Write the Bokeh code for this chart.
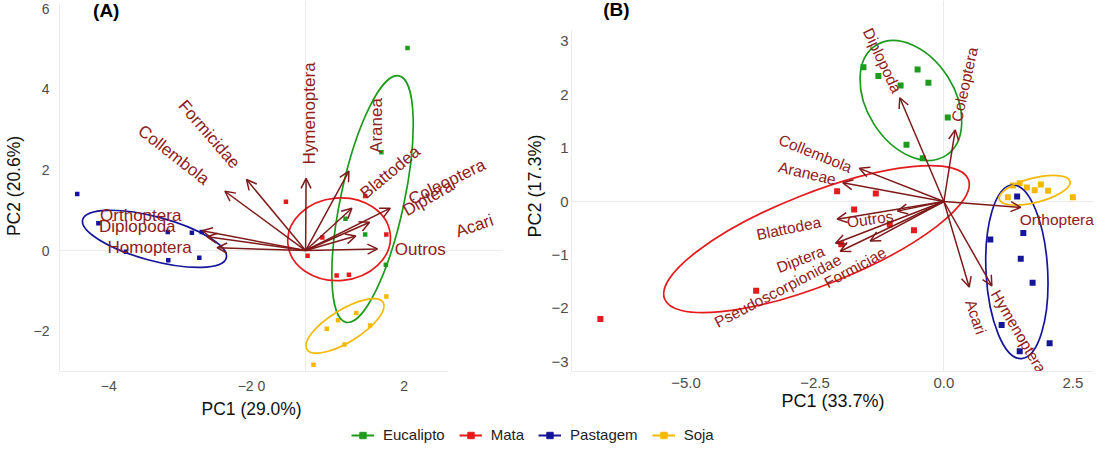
from bokeh.plotting import figure
from bokeh.models import (ColumnDataSource, Arrow, OpenHead, Label, FixedTicker,
                          Legend, LegendItem, Range1d)
from bokeh.layouts import column, row
from bokeh.embed import file_html
from bokeh.resources import INLINE
from bokeh.core.properties import value

FONT = "Liberation Sans"
ARROW = "#7E1A1A"
LABEL = "#8E2020"

groups = ["Eucalipto", "Mata", "Pastagem", "Soja"]
group_colors = ["#1E9B1E", "#E41A1C", "#15159A", "#F5B800"]

# ---------------- Panel A (PC1 29.0 %, PC2 20.6 %) ----------------
a_euc_x = [2.07, 1.54, 0.81, 1.21, 1.63]
a_euc_y = [5.02, 2.44, 0.79, 0.40, -0.35]
a_mata_x = [-0.40, 0.04, 0.34, 1.21, 1.64, 0.63, 0.88]
a_mata_y = [1.21, -0.13, 0.32, 1.35, 0.40, -0.62, -0.60]
a_past_x = [-4.64, -4.21, -2.80, -2.31, -2.11, -3.65, -2.79, -2.16]
a_past_y = [1.40, 0.675, 0.46, 0.44, 0.46, -0.03, -0.24, -0.18]
a_soja_x = [1.64, 1.03, 0.66, 1.31, 0.43, 0.79, 0.16]
a_soja_y = [-1.14, -1.55, -1.73, -1.86, -1.94, -2.33, -2.83]

# ellipses (Eucalipto, Mata, Pastagem, Soja)
a_ell_x = [1.36, 0.68, -3.07, 0.80]
a_ell_y = [1.275, 0.28, 0.29, -1.87]
a_ell_w = [5.12, 2.09, 3.02, 1.82]
a_ell_h = [1.57, 2.05, 1.085, 0.80]
a_ell_angle = [77.9, 5.0, -15.0, 31.6]

a_var = ["Collembola", "Formicidae", "Orthoptera", "Diplopoda", "Homoptera",
         "Hymenoptera", "Blattodea", "Aranea", "Coleoptera", "Diptera",
         "Acari", "Outros"]
a_var_x = [-1.64, -1.20, -2.10, -2.00, -1.80, 0.01, 0.88, 0.94, 1.72, 1.02, 1.30, 1.46]
a_var_y = [1.47, 1.76, 0.49, 0.34, 0.07, 1.79, 1.97, 1.05, 1.05, 0.36, 0.70, 0.04]
a_lab_x = [-2.68, -1.96, -3.35, -3.42, -3.17, 0.07, 1.72, 1.44, 2.87, 2.49, 3.43, 2.33]
a_lab_y = [2.37, 2.88, 0.88, 0.585, 0.07, 3.40, 1.94, 3.10, 1.70, 1.30, 0.61, 0.02]
a_lab_angle = [-38, -49, 0, 0, 0, 90, 40, 90, 26, 30, 19, 0]

a_xticks = [-4, -1.1, 2]
a_xtick_labels = ["\u22124", "\u22122 0", "2"]
a_yticks = [-2, 0, 2, 4, 6]
a_ytick_labels = ["\u22122", "0", "2", "4", "6"]

# ---------------- Panel B (PC1 33.7 %, PC2 17.3 %) ----------------
b_euc_x = [-1.56, -1.27, -0.84, -0.51, -0.30, 0.075, -0.725, -0.41]
b_euc_y = [2.51, 2.35, 2.17, 2.47, 2.22, 1.57, 1.06, 0.81]
b_mata_x = [-6.66, -3.64, -2.07, -1.32, -1.74, -1.05, -0.58, -1.99]
b_mata_y = [-2.20, -1.67, 0.19, 0.15, -0.15, -0.43, -0.54, -0.80]
b_past_x = [1.42, 1.54, 0.90, 1.49, 1.72, 1.12, 1.47, 2.05]
b_past_y = [0.095, -0.59, -0.71, -1.07, -1.52, -2.31, -2.80, -2.65]
b_soja_x = [1.34, 1.47, 1.61, 1.76, 1.88, 2.02, 1.24, 2.50]
b_soja_y = [0.30, 0.34, 0.26, 0.21, 0.32, 0.20, 0.08, 0.08]

b_ell_x = [-0.64, -2.47, 1.415, 1.76]
b_ell_y = [1.89, -0.705, -1.315, 0.21]
b_ell_w = [2.53, 6.33, 3.37, 1.415]
b_ell_h = [1.64, 1.72, 1.153, 0.458]
b_ell_angle = [-57.7, 21.5, -87.0, 14.2]

b_var = ["Diplopoda", "Coleoptera", "Collembola", "Araneae", "Outros",
         "Blattodea", "Formiciae", "Diptera", "Pseudoscorpionidae",
         "Orthoptera", "Acari", "Hymenoptera"]
b_var_x = [-0.855, 0.22, -1.64, -1.96, -0.90, -2.07, -1.43, -2.10, -2.01, 1.49, 0.49, 0.93]
b_var_y = [1.94, 1.34, 0.62, 0.35, -0.18, -0.33, -0.74, -0.78, -0.93, -0.11, -1.60, -1.58]
b_lab_x = [-1.19, 0.40, -2.49, -2.65, -1.43, -3.01, -1.72, -2.78, -3.22, 2.19, 0.62, 1.45]
b_lab_y = [2.64, 2.19, 0.90, 0.53, -0.33, -0.50, -1.23, -1.08, -1.67, -0.34, -2.16, -2.43]
b_lab_angle = [-64.6, 77.5, -22, -13, 8, 11.6, 28.7, 21, 27.5, 0, -70.9, -59.5]

b_xticks = [-5, -2.5, 0, 2.5]
b_xtick_labels = ["\u22125.0", "\u22122.5", "0.0", "2.5"]
b_yticks = [-3, -2, -1, 0, 1, 2, 3]
b_ytick_labels = ["\u22123", "\u22122", "\u22121", "0", "1", "2", "3"]


def style_axes(p, tick_size, title_size, xlab, ylab, xticks, xlabels, yticks, ylabels,
               ystand, xstand):
    if xlab:
        p.xaxis.axis_label = xlab
    p.yaxis.axis_label = ylab
    p.xaxis.ticker = FixedTicker(ticks=xticks)
    p.yaxis.ticker = FixedTicker(ticks=yticks)
    p.xaxis.major_label_overrides = {t: l for t, l in zip(xticks, xlabels)}
    p.yaxis.major_label_overrides = {t: l for t, l in zip(yticks, ylabels)}
    for ax in (p.xaxis[0], p.yaxis[0]):
        ax.major_tick_line_color = None
        ax.minor_tick_line_color = None
        ax.axis_line_color = "#EBEBEB"
        ax.major_label_text_font = FONT
        ax.major_label_text_font_size = f"{tick_size}px"
        ax.major_label_text_color = "#4D4D4D"
        ax.axis_label_text_font = FONT
        ax.axis_label_text_font_size = f"{title_size}px"
        ax.axis_label_text_font_style = "normal"
        ax.axis_label_text_color = "#111111"
        ax.major_tick_out = 0
        ax.major_tick_in = 0
    p.yaxis.major_label_standoff = ystand[0]
    p.yaxis.axis_label_standoff = ystand[1]
    p.xaxis.major_label_standoff = xstand[0]
    p.xaxis.axis_label_standoff = xstand[1]
    p.xgrid.ticker = FixedTicker(ticks=[0])
    p.ygrid.ticker = FixedTicker(ticks=[0])
    p.grid.grid_line_color = "#EBEBEB"
    p.outline_line_color = None


def draw_panel(p, pts, ell, var, lab, label_size, marker_size):
    for (xs, ys), c in zip(pts, group_colors):
        p.scatter(xs, ys, marker="square", size=marker_size, color=c, line_width=0)
    ex, ey, ew, eh, ea = ell
    src = ColumnDataSource(dict(x=ex, y=ey, w=ew, h=eh, a=ea, c=group_colors))
    p.ellipse(x="x", y="y", width="w", height="h", angle="a", angle_units="deg",
              fill_color=None, line_color="c", line_width=1.7, source=src)
    names, vx, vy = var
    asrc = ColumnDataSource(dict(x0=[0.0] * len(vx), y0=[0.0] * len(vy), x=vx, y=vy))
    p.add_layout(Arrow(end=OpenHead(size=10, line_color=ARROW, line_width=1.5),
                       x_start="x0", y_start="y0", x_end="x", y_end="y",
                       line_color=ARROW, line_width=1.5, source=asrc))
    lx, ly, la = lab
    tsrc = ColumnDataSource(dict(x=lx, y=ly, t=names, a=la))
    p.text(x="x", y="y", text="t", angle="a", angle_units="deg", source=tsrc,
           text_align="center", text_baseline="middle", text_color=LABEL,
           text_font=value(FONT), text_font_size=f"{label_size}px")


FIG_H = 427
BORDER_BOTTOM = 56

# ---------------- figure A ----------------
pA = figure(width=522, height=FIG_H, x_range=Range1d(-5, 4.0), y_range=Range1d(-3, 6.2),
            toolbar_location=None, output_backend="svg", title_location="below",
            min_border_left=55, min_border_right=20, min_border_top=0,
            min_border_bottom=BORDER_BOTTOM,
            background_fill_color="white", border_fill_color="white")
style_axes(pA, 14, 17.5, None, "PC2 (20.6%)", a_xticks, a_xtick_labels,
           a_yticks, a_ytick_labels, (10, 7), (6, 0))
# x-axis title of panel A sits under the bounded axis (not the full frame)
pA.title.text = "PC1 (29.0%)"
pA.title.align = "left"
pA.title.offset = 142
pA.title.standoff = 0
pA.title.text_font = FONT
pA.title.text_font_size = "17.5px"
pA.title.text_font_style = "normal"
pA.title.text_color = "#111111"
pA.xaxis.bounds = (-5, 2.9)
pA.yaxis.bounds = (-3, 6.1)
draw_panel(pA,
           [(a_euc_x, a_euc_y), (a_mata_x, a_mata_y), (a_past_x, a_past_y), (a_soja_x, a_soja_y)],
           (a_ell_x, a_ell_y, a_ell_w, a_ell_h, a_ell_angle),
           (a_var, a_var_x, a_var_y), (a_lab_x, a_lab_y, a_lab_angle), 17, 4.5)
pA.add_layout(Label(x=-4.05, y=5.95, text="(A)",
                    text_font=FONT, text_font_size="19px", text_font_style="bold",
                    text_align="center", text_baseline="middle", text_color="black"))

# ---------------- figure B ----------------
pB = figure(width=572, height=FIG_H, x_range=Range1d(-7.22, 2.92), y_range=Range1d(-3.18, 3.76),
            toolbar_location=None, output_backend="svg", title_location=None,
            min_border_left=48, min_border_right=0, min_border_top=0,
            min_border_bottom=BORDER_BOTTOM,
            background_fill_color="white", border_fill_color="white")
style_axes(pB, 15, 18, "PC1 (33.7%)", "PC2 (17.3%)", b_xticks, b_xtick_labels,
           b_yticks, b_ytick_labels, (3, 3), (6, 0))
pB.yaxis.bounds = (-3.18, 3.22)
draw_panel(pB,
           [(b_euc_x, b_euc_y), (b_mata_x, b_mata_y), (b_past_x, b_past_y), (b_soja_x, b_soja_y)],
           (b_ell_x, b_ell_y, b_ell_w, b_ell_h, b_ell_angle),
           (b_var, b_var_x, b_var_y), (b_lab_x, b_lab_y, b_lab_angle), 15.5, 6)
pB.add_layout(Label(x=-6.35, y=3.59, text="(B)",
                    text_font=FONT, text_font_size="19px", text_font_style="bold",
                    text_align="center", text_baseline="middle", text_color="black"))

# ---------------- legend strip ----------------
# renderers use the group data but sit in ranges far away, so only the legend shows
pL = figure(width=1094, height=451 - 8 - FIG_H, x_range=Range1d(-100, -99),
            y_range=Range1d(-100, -99), title_location=None,
            toolbar_location=None, output_backend="svg", x_axis_location=None,
            y_axis_location=None, min_border=0, outline_line_color=None)
pL.grid.visible = False
items = []
for (xs, ys), g, c in zip([(a_euc_x, a_euc_y), (a_mata_x, a_mata_y),
                           (a_past_x, a_past_y), (a_soja_x, a_soja_y)], groups, group_colors):
    lr = pL.line(xs, ys, line_color=c, line_width=2)
    sr = pL.scatter(xs, ys, marker="square", size=2, color=c)
    items.append(LegendItem(label=g, renderers=[lr, sr]))
legend = Legend(items=items, orientation="horizontal", location=(351, 0),
                glyph_width=23, glyph_height=16, label_height=16, label_standoff=9,
                spacing=14, padding=0, margin=0, border_line_color=None,
                background_fill_alpha=0, label_text_font=FONT,
                label_text_font_size="15px", label_text_color="#222222")
pL.add_layout(legend)

layout = column(row(pA, pB), pL)
open("out.html", "w").write(file_html(layout, INLINE))
